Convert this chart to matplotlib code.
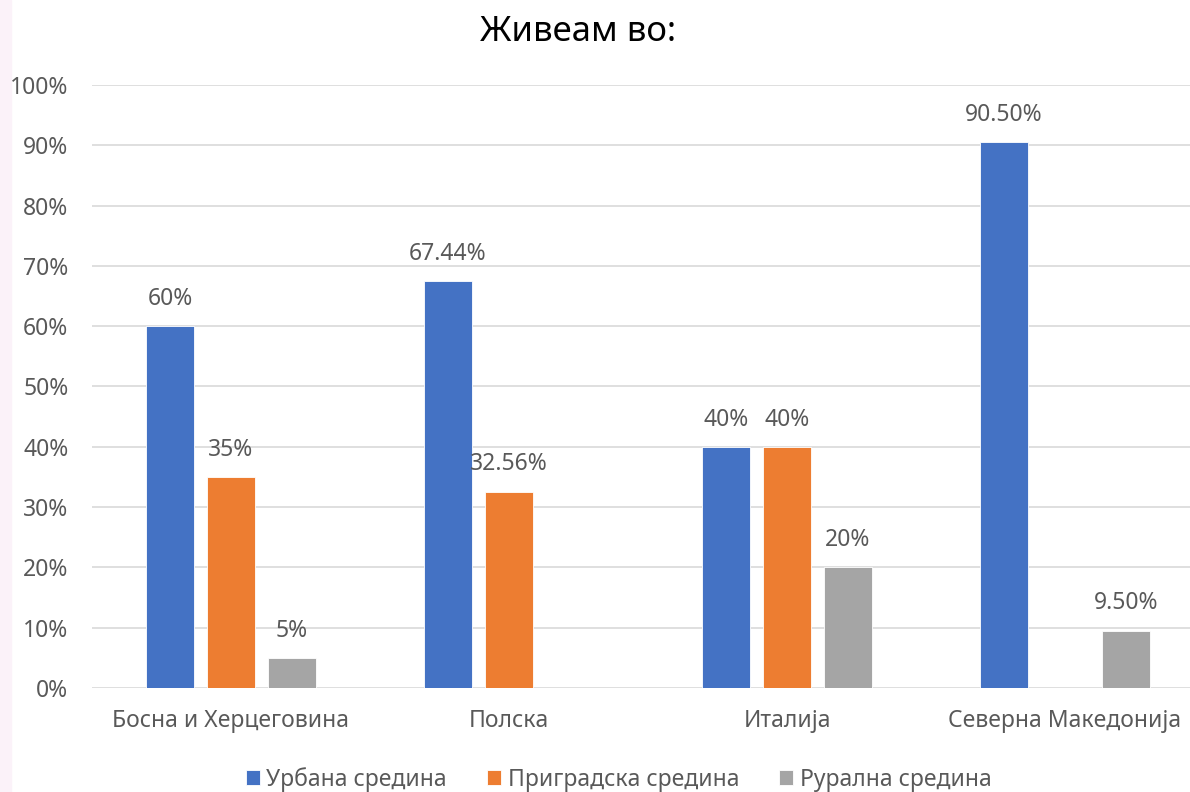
import numpy as np
import matplotlib.pyplot as plt
from matplotlib.patches import Rectangle

plt.rcParams['font.family'] = ['Noto Sans', 'DejaVu Sans']

# data
countries = ['Босна и Херцеговина', 'Полска', 'Италија', 'Северна Македонија']
series_names = ['Урбана средина', 'Приградска средина', 'Рурална средина']
urban = [60, 67.44, 40, 90.5]
suburban = [35, 32.56, 40, None]
rural = [5, None, 20, 9.5]
urban_lab = ['60%', '67.44%', '40%', '90.50%']
suburban_lab = ['35%', '32.56%', '40%', None]
rural_lab = ['5%', None, '20%', '9.50%']
colors = ['#4472C4', '#ED7D31', '#A5A5A5']

fig = plt.figure(figsize=(11.9, 7.92), dpi=100)
# faint tint on the left edge of the slide
fig.patches.append(Rectangle((0, 0), 0.009, 1, transform=fig.transFigure,
                             color='#fbf2f9', zorder=-1))

ax = fig.add_axes([0.0773, 0.1313, 0.9345, 0.7614])

x = np.arange(len(countries))
bw = 0.173
step = 0.2194
text_col = '#595959'
fs = 16.5

for i, (vals, labs) in enumerate([(urban, urban_lab), (suburban, suburban_lab), (rural, rural_lab)]):
    for j, (v, lab) in enumerate(zip(vals, labs)):
        if v is None:
            continue
        xpos = x[j] + (i - 1) * step
        ax.bar(xpos, v, width=bw, color=colors[i], edgecolor='white', linewidth=0.6, zorder=3,
               label=series_names[i] if j == 0 else None)
        ax.annotate(lab, (xpos, v), xytext=(0, 11), textcoords='offset points',
                    ha='center', va='bottom', fontsize=fs, color=text_col)

ax.set_xlim(-0.5, len(countries) - 0.5)
ax.set_ylim(0, 100)
ax.set_yticks(np.arange(0, 101, 10))
ax.set_yticklabels([f'{t}%' for t in range(0, 101, 10)])
ax.set_xticks(x)
ax.set_xticklabels(countries)
ax.tick_params(axis='both', length=0, labelsize=fs, labelcolor=text_col)
ax.tick_params(axis='x', pad=15)
ax.tick_params(axis='y', pad=17)
ax.grid(axis='y', color='#d9d9d9', linewidth=1.2, zorder=0)
for s in ax.spines.values():
    s.set_visible(False)

fig.text(0.486, 0.960, 'Живеам во:', ha='center', va='center', fontsize=25, color='black')

handles, labels = ax.get_legend_handles_labels()
fig.legend(handles, labels, loc='center', bbox_to_anchor=(0.52, 0.016), ncol=3, frameon=False,
           fontsize=fs, labelcolor=text_col, handlelength=0.6, handleheight=0.6,
           handletextpad=0.3, columnspacing=1.75)

fig.savefig('out.png', dpi=100)
